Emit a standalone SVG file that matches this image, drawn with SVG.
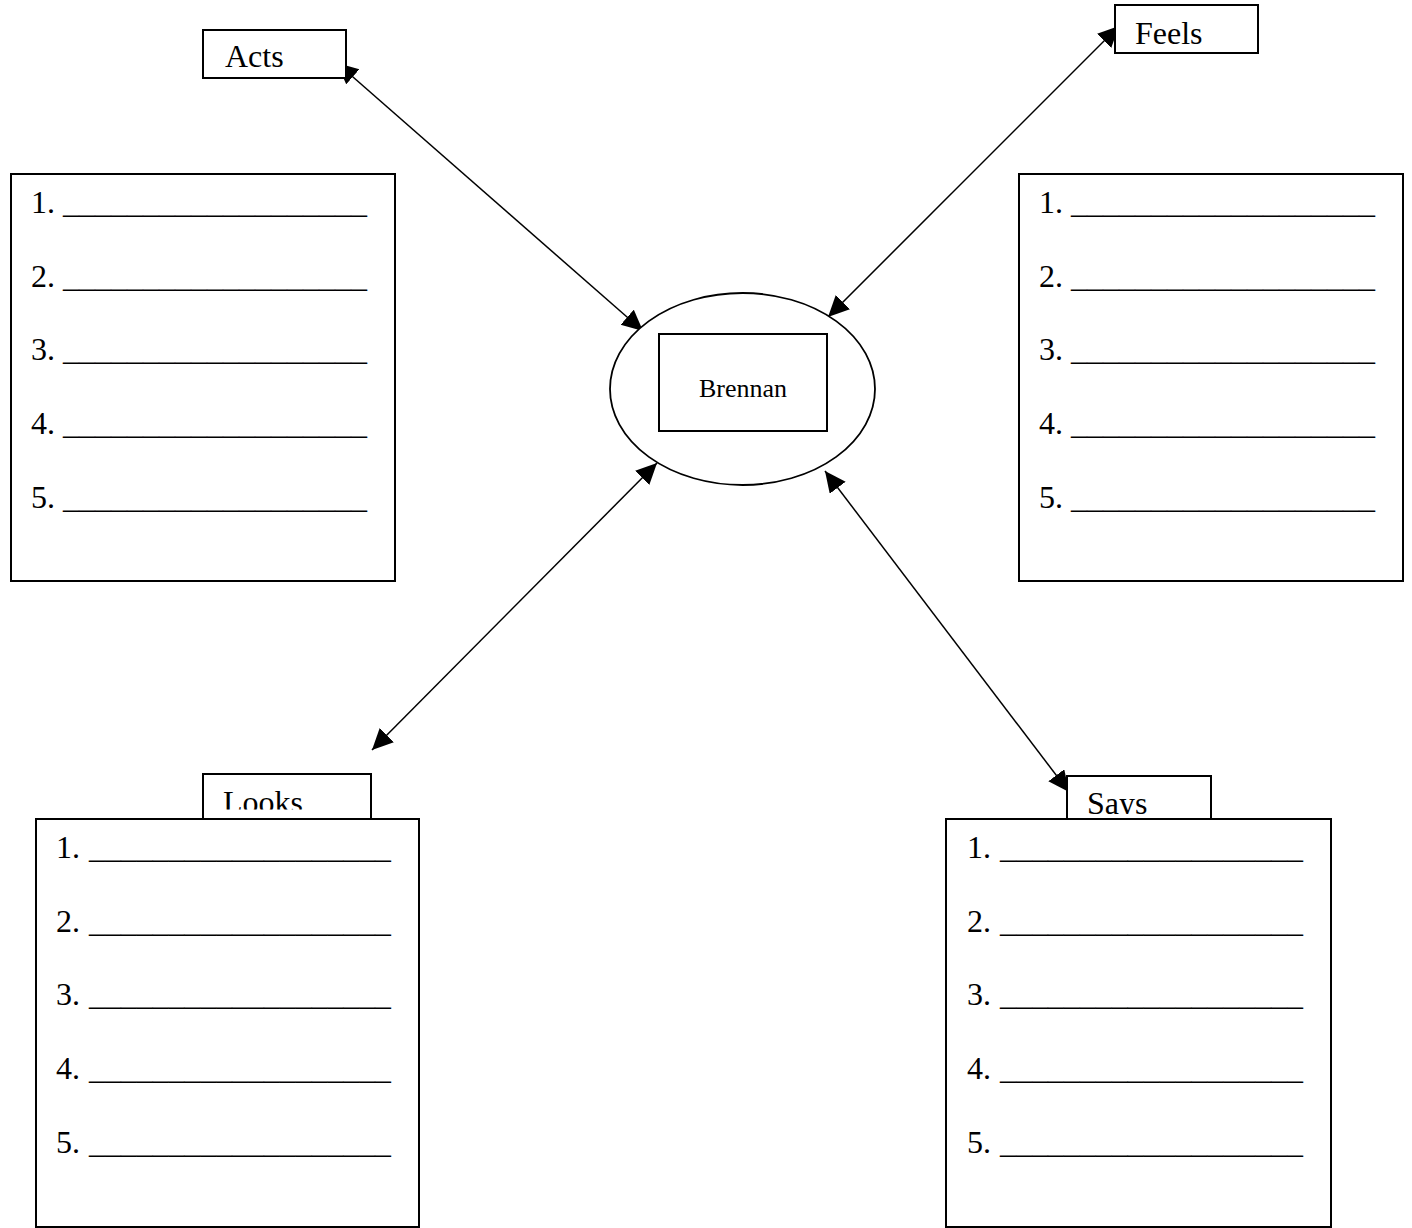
<svg xmlns="http://www.w3.org/2000/svg" width="1412" height="1228" viewBox="0 0 1412 1228">
<style>
.box{fill:#fff;stroke:#000;stroke-width:2}
.t{font-family:"Liberation Serif","Times New Roman",serif;font-size:32px;fill:#000}
.c{stroke:#000;stroke-width:1.5;fill:none;marker-start:url(#ah);marker-end:url(#ah)}
</style>
<defs>
<marker id="ah" markerUnits="userSpaceOnUse" markerWidth="24" markerHeight="22" refX="21" refY="10" orient="auto-start-reverse" viewBox="0 0 24 22">
<path d="M0,0 L21,10 L0,20 Z" fill="#000"/>
</marker>
<clipPath id="clipLooks"><rect x="203" y="774" width="168" height="35.5"/></clipPath>
<clipPath id="clipSays"><rect x="1067" y="776" width="144" height="38"/></clipPath>
</defs>
<rect width="1412" height="1228" fill="#fff"/>
<g id="connectors">
<line class="c" x1="643" y1="331" x2="337" y2="63"/>
<line class="c" x1="828" y1="317" x2="1119" y2="26"/>
<line class="c" x1="657" y1="463" x2="372" y2="750"/>
<line class="c" x1="825" y1="471" x2="1069" y2="792"/>
</g>
<g id="acts">
<rect class="box" x="203" y="30" width="143" height="48"/>
<text class="t" x="225" y="67">Acts</text>
</g>
<g id="feels">
<rect class="box" x="1115" y="5" width="143" height="48"/>
<text class="t" x="1135" y="44">Feels</text>
</g>
<g id="brennan">
<ellipse cx="742.5" cy="389" rx="132.5" ry="96" fill="#fff" stroke="#000" stroke-width="1.8"/>
<rect class="box" x="659" y="334" width="168" height="97"/>
<text class="t" x="743" y="397" text-anchor="middle" style="font-size:26px">Brennan</text>
</g>
<g id="acts-list">
<rect class="box" x="11" y="174" width="384" height="407"/>
<text class="t" x="31" y="213">1.</text><text class="t" x="63" y="213" textLength="304" lengthAdjust="spacingAndGlyphs">___________________</text>
<text class="t" x="31" y="287">2.</text><text class="t" x="63" y="287" textLength="304" lengthAdjust="spacingAndGlyphs">___________________</text>
<text class="t" x="31" y="360">3.</text><text class="t" x="63" y="360" textLength="304" lengthAdjust="spacingAndGlyphs">___________________</text>
<text class="t" x="31" y="434">4.</text><text class="t" x="63" y="434" textLength="304" lengthAdjust="spacingAndGlyphs">___________________</text>
<text class="t" x="31" y="508">5.</text><text class="t" x="63" y="508" textLength="304" lengthAdjust="spacingAndGlyphs">___________________</text>
</g>
<g id="feels-list">
<rect class="box" x="1019" y="174" width="384" height="407"/>
<text class="t" x="1039" y="213">1.</text><text class="t" x="1071" y="213" textLength="304" lengthAdjust="spacingAndGlyphs">___________________</text>
<text class="t" x="1039" y="287">2.</text><text class="t" x="1071" y="287" textLength="304" lengthAdjust="spacingAndGlyphs">___________________</text>
<text class="t" x="1039" y="360">3.</text><text class="t" x="1071" y="360" textLength="304" lengthAdjust="spacingAndGlyphs">___________________</text>
<text class="t" x="1039" y="434">4.</text><text class="t" x="1071" y="434" textLength="304" lengthAdjust="spacingAndGlyphs">___________________</text>
<text class="t" x="1039" y="508">5.</text><text class="t" x="1071" y="508" textLength="304" lengthAdjust="spacingAndGlyphs">___________________</text>
</g>
<g id="looks">
<rect class="box" x="203" y="774" width="168" height="45"/>
<text class="t" x="223" y="813" clip-path="url(#clipLooks)">Looks</text>
</g>
<g id="says">
<rect class="box" x="1067" y="776" width="144" height="43"/>
<text class="t" x="1087" y="814" clip-path="url(#clipSays)">Says</text>
</g>
<g id="looks-list">
<rect class="box" x="36" y="819" width="383" height="408"/>
<text class="t" x="56" y="858">1.</text><text class="t" x="89" y="858" textLength="302" lengthAdjust="spacingAndGlyphs">___________________</text>
<text class="t" x="56" y="932">2.</text><text class="t" x="89" y="932" textLength="302" lengthAdjust="spacingAndGlyphs">___________________</text>
<text class="t" x="56" y="1005">3.</text><text class="t" x="89" y="1005" textLength="302" lengthAdjust="spacingAndGlyphs">___________________</text>
<text class="t" x="56" y="1079">4.</text><text class="t" x="89" y="1079" textLength="302" lengthAdjust="spacingAndGlyphs">___________________</text>
<text class="t" x="56" y="1153">5.</text><text class="t" x="89" y="1153" textLength="302" lengthAdjust="spacingAndGlyphs">___________________</text>
</g>
<g id="says-list">
<rect class="box" x="946" y="819" width="385" height="408"/>
<text class="t" x="967" y="858">1.</text><text class="t" x="1000" y="858" textLength="303" lengthAdjust="spacingAndGlyphs">___________________</text>
<text class="t" x="967" y="932">2.</text><text class="t" x="1000" y="932" textLength="303" lengthAdjust="spacingAndGlyphs">___________________</text>
<text class="t" x="967" y="1005">3.</text><text class="t" x="1000" y="1005" textLength="303" lengthAdjust="spacingAndGlyphs">___________________</text>
<text class="t" x="967" y="1079">4.</text><text class="t" x="1000" y="1079" textLength="303" lengthAdjust="spacingAndGlyphs">___________________</text>
<text class="t" x="967" y="1153">5.</text><text class="t" x="1000" y="1153" textLength="303" lengthAdjust="spacingAndGlyphs">___________________</text>
</g>
</svg>
